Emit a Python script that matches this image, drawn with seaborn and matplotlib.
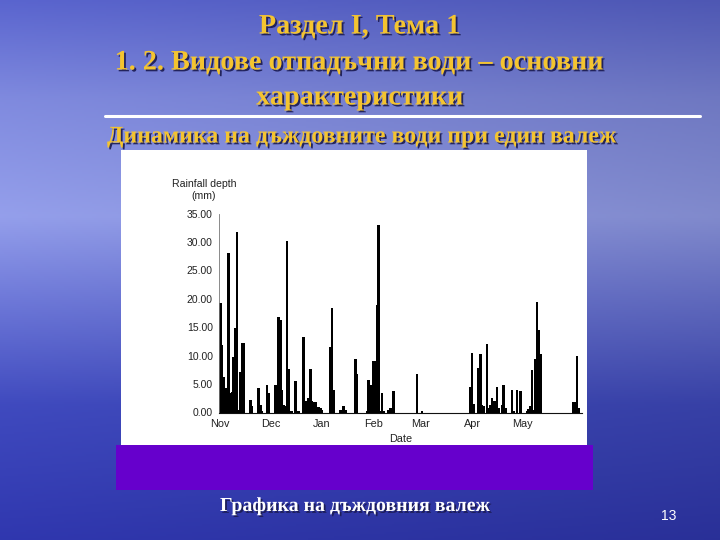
import numpy as np
import pandas as pd
import matplotlib
matplotlib.use('Agg')
import matplotlib.pyplot as plt
import matplotlib.patheffects as pe
from matplotlib.patches import Rectangle
import seaborn as sns

# daily rainfall depth (mm), one list per month
nov_rain = [19.2, 11.8, 6.3, 4.3, 3.8, 28.0, 3.5, 3.6, 9.8, 14.8,
            31.7, 0.5, 7.2, 12.2, 12.2, 0, 0, 0, 2.2, 1.2,
            0, 0, 0, 4.3, 1.3, 0.2, 0, 0, 4.8, 3.5]
dec_rain = [0, 0, 0, 4.9, 2.5, 16.8, 16.2, 4.0, 1.4, 1.2,
            30.2, 7.6, 0.2, 0.2, 0, 5.5, 0.2, 0.2, 0, 0,
            13.3, 2.0, 1.4, 2.6, 7.6, 2.0, 1.8, 1.8, 0.3, 1.0, 0.8]
jan_rain = [0.5, 0, 0, 0, 0, 11.5, 18.3, 4.0, 0, 0,
            0, 0.5, 0, 1.2, 0.5, 0, 0, 0, 0, 0,
            9.4, 6.7, 0, 0, 0, 0, 0, 0.3, 5.8, 4.9, 4.9]
feb_rain = [9.1, 9.1, 18.9, 32.9, 0.2, 3.5, 0.2, 0, 0, 0.5,
            0.8, 0.8, 3.8, 0, 0, 0, 0, 0, 0, 0,
            0, 0, 0, 0, 0, 0, 6.7, 0]
mar_rain = [0, 0.3, 0, 0, 0, 0, 0, 0, 0, 0,
            0, 0, 0, 0, 0, 0, 0, 0, 0, 0,
            0, 0, 0, 0, 0, 0, 0, 0, 0, 0, 4.5]
apr_rain = [10.5, 1.5, 0, 0, 7.9, 10.3, 1.4, 1.1, 0, 12.1,
            0.8, 1.4, 2.6, 2.0, 2.0, 4.5, 0.8, 0, 1.4, 4.8,
            0.8, 0, 0, 0, 4.0, 0.3, 0, 4.0, 0, 3.8]
may_rain = [0, 0, 0, 0.3, 0.6, 1.1, 7.4, 0.5, 9.4, 19.5,
            14.5, 10.3, 0, 0, 0, 0, 0, 0, 0, 0,
            0, 0, 0, 0, 0, 0, 0, 0, 0, 0, 0]
jun_rain = [1.8, 1.8, 10.0, 0.8, 0]

month_labels = ['Nov', 'Dec', 'Jan', 'Feb', 'Mar', 'Apr', 'May']
y_ticks = [0, 5, 10, 15, 20, 25, 30, 35]

title_lines = ['Раздел I, Тема 1',
               '1. 2. Видове отпадъчни води – основни',
               'характеристики']
subtitle = 'Динамика на дъждовните води при един валеж'
caption = 'Графика на дъждовния валеж'
page_number = '13'

sns.set_style('white')
plt.rcParams['font.family'] = ['Liberation Sans', 'DejaVu Sans']

rain = nov_rain + dec_rain + jan_rain + feb_rain + mar_rain + apr_rain + may_rain + jun_rain
dates = pd.date_range('1998-11-01', periods=len(rain), freq='D')
df = pd.DataFrame({'date': dates, 'day': np.arange(len(rain)), 'rain': rain})

fig = plt.figure(figsize=(7.2, 5.4), dpi=100)

# slide background (sky / water gradient)
bg = fig.add_axes([0, 0, 1, 1])
rows = np.linspace(0, 1, 270)
cols = np.linspace(0, 1, 360)
stops = [0.0, 0.18, 0.4, 0.55, 0.75, 1.0]
stop_rgb = np.array([(85, 95, 195), (120, 130, 210), (140, 150, 222),
                     (105, 115, 205), (60, 70, 180), (45, 52, 165)]) / 255
img = np.stack([np.interp(rows, stops, stop_rgb[:, k]) for k in range(3)], axis=-1)
img = img[:, None, :] * (1.06 - 0.14 * cols)[None, :, None]
bg.imshow(np.clip(img, 0, 1), extent=[0, 720, 540, 0], aspect='auto', zorder=0)
bg.set_xlim(0, 720)
bg.set_ylim(540, 0)
bg.axis('off')

bg.plot([105, 700], [116, 116], color='white', lw=2.2, zorder=1)
bg.add_patch(Rectangle((121, 150), 466, 295, fc='white', ec='none', zorder=1))
bg.add_patch(Rectangle((116, 445), 477, 45, fc='#6600cc', ec='none', zorder=1))

gold = '#f4c430'
shadow = [pe.withSimplePatchShadow(offset=(1.3, -1.3), shadow_rgbFace='#1a1a50', alpha=0.9)]
for y, line in zip([27, 63, 98], title_lines):
    bg.text(360, y, line, ha='center', va='center', fontsize=20.3, fontweight='bold',
            family='Liberation Serif', color=gold, path_effects=shadow)
bg.text(362, 137, subtitle, ha='center', va='center', fontsize=17.2, fontweight='bold',
        family='Liberation Serif', color=gold, path_effects=shadow)
bg.text(355, 506, caption, ha='center', va='center', fontsize=14.3, fontweight='bold',
        family='Liberation Serif', color='white', path_effects=shadow)
bg.text(669, 516, page_number, ha='center', va='center', fontsize=10, color='white')

# the rainfall chart
ax = fig.add_axes([219 / 720, 1 - 412.5 / 540, 363 / 720, 199 / 540])
sns.barplot(data=df, x='day', y='rain', native_scale=True, color='black', width=1.6,
            linewidth=0, errorbar=None, saturation=1, ax=ax)
ax.set_facecolor('none')
ax.set_xlim(-0.8, 216.9)
ax.set_ylim(0, 35)

starts = df.loc[df['date'].dt.day == 1, 'day'].values[:len(month_labels)]
ax.set_xticks(starts)
ax.set_xticklabels(month_labels, fontsize=7.8, color='#222')
ax.tick_params(axis='x', length=0, pad=5)
ax.set_yticks(y_ticks)
ax.set_yticklabels([f'{v:.2f}' for v in y_ticks], fontsize=7.5, color='#222')
ax.tick_params(axis='y', length=3, width=0.6, color='#555', pad=1.5, direction='out')
ax.set_xlabel('Date', fontsize=7.8, color='#222', labelpad=3)
ax.set_ylabel('')
ax.text(-0.041, 1.118, 'Rainfall depth\n(mm)', transform=ax.transAxes, ha='center',
        va='center', fontsize=7.6, color='#222', linespacing=1.25)
for side in ['top', 'right']:
    ax.spines[side].set_visible(False)
ax.spines['left'].set_color('#777')
ax.spines['left'].set_linewidth(0.6)
ax.spines['bottom'].set_color('#111')
ax.spines['bottom'].set_linewidth(0.8)

fig.savefig('out.png', dpi=100)
